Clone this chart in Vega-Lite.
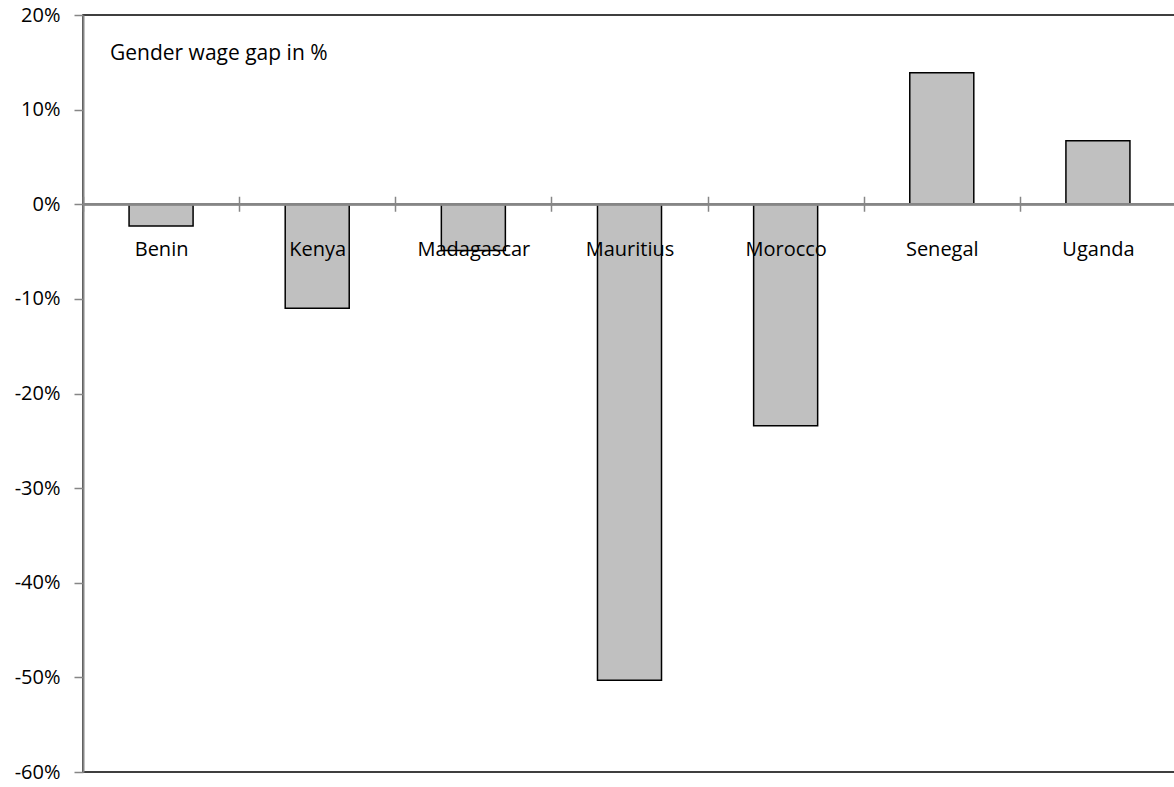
{
  "$schema": "https://vega.github.io/schema/vega-lite/v6.json",
  "width": 1093,
  "height": 757,
  "autosize": {"type": "none"},
  "padding": {"left": 83, "top": 15, "right": 0, "bottom": 15},
  "background": "white",
  "config": {
    "font": "Open Sans",
    "view": {"stroke": "black", "strokeWidth": 1.5}
  },
  "title": {
    "text": "Gender wage gap in %",
    "anchor": "start",
    "frame": "group",
    "orient": "top",
    "dx": 27,
    "dy": 63,
    "fontSize": 21,
    "fontWeight": "normal",
    "color": "black",
    "font": "Open Sans"
  },
  "data": {
    "values": [
      {"country": "Benin", "gap": -0.023},
      {"country": "Kenya", "gap": -0.110},
      {"country": "Madagascar", "gap": -0.049},
      {"country": "Mauritius", "gap": -0.503},
      {"country": "Morocco", "gap": -0.234},
      {"country": "Senegal", "gap": 0.139},
      {"country": "Uganda", "gap": 0.067}
    ]
  },
  "layer": [
    {
      "mark": {"type": "bar", "fill": "#C0C0C0", "stroke": "black", "strokeWidth": 1.5, "width": {"band": 0.41}},
      "encoding": {
        "x": {
          "field": "country",
          "type": "nominal",
          "sort": null,
          "scale": {"paddingInner": 0, "paddingOuter": 0},
          "axis": {
            "title": null,
            "domain": false,
            "tickBand": "extent",
            "tickColor": "#868686",
            "tickWidth": 1.5,
            "tickSize": 15,
            "offset": -575.75,
            "labelAngle": 0,
            "labelFontSize": 20,
            "labelColor": "black",
            "labelPadding": 28,
            "labelFont": "Open Sans",
            "zindex": 2
          }
        },
        "y": {
          "field": "gap",
          "type": "quantitative",
          "scale": {"domain": [-0.6, 0.2], "nice": false, "zero": false},
          "axis": {
            "title": null,
            "values": [-0.6, -0.5, -0.4, -0.3, -0.2, -0.1, 0, 0.1, 0.2],
            "labelExpr": "(datum.value < -0.0001 ? '-' : '') + format(abs(datum.value) * 100, '.0f') + '%'",
            "grid": false,
            "domainColor": "#868686",
            "domainWidth": 2,
            "tickColor": "#868686",
            "tickWidth": 1.5,
            "tickSize": 9,
            "labelPadding": 14,
            "labelFontSize": 20,
            "labelColor": "black",
            "labelFont": "Open Sans",
            "zindex": 2
          }
        }
      }
    },
    {
      "mark": {"type": "rule", "color": "#868686", "strokeWidth": 2},
      "encoding": {"y": {"datum": 0, "type": "quantitative"}}
    }
  ]
}
